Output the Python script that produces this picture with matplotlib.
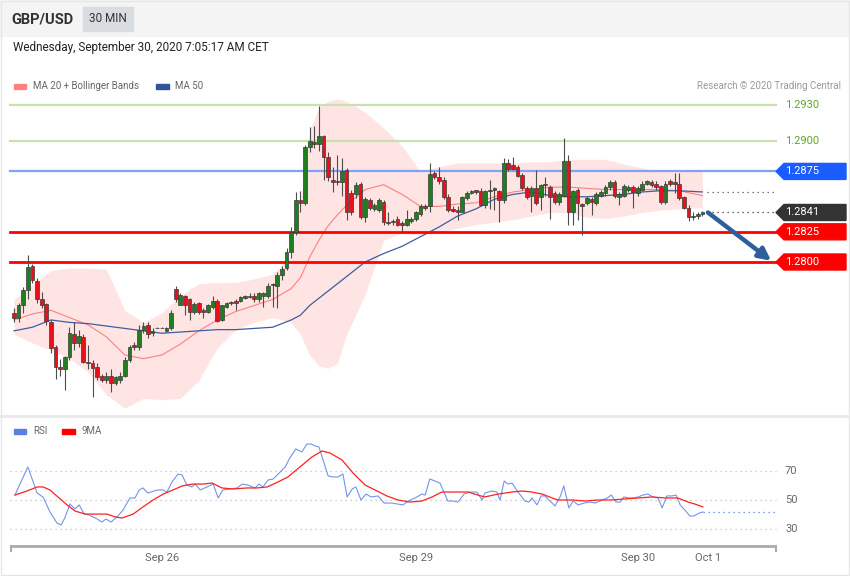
import matplotlib
matplotlib.use("Agg")
import matplotlib.pyplot as plt
from matplotlib.patches import Polygon, Rectangle
import numpy as np

plt.rcParams['font.family'] = ['Roboto', 'DejaVu Sans']

# ---- GBP/USD 30 min candles (oldest first) ----
opens = [1.2758, 1.2754, 1.2764, 1.2777, 1.2797, 1.2784, 1.2769, 1.2765, 1.2750, 1.2730,
         1.2713, 1.2711, 1.2721, 1.2740, 1.2733, 1.2738, 1.2717, 1.2716, 1.2713, 1.2706,
         1.2702, 1.2706, 1.2700, 1.2702, 1.2706, 1.2719, 1.2731, 1.2730, 1.2744, 1.2748,
         1.2741, 1.2745, 1.2745, 1.2743, 1.2745, 1.2778, 1.2764, 1.2772, 1.2769, 1.2759,
         1.2766, 1.2760, 1.2759, 1.2763, 1.2768, 1.2752, 1.2763, 1.2766, 1.2768, 1.2768,
         1.2770, 1.2771, 1.2772, 1.2769, 1.2772, 1.2772, 1.2782, 1.2780, 1.2789, 1.2795,
         1.2808, 1.2825, 1.2851, 1.2849, 1.2895, 1.2899, 1.2898, 1.2904, 1.2887, 1.2868,
         1.2867, 1.2866, 1.2876, 1.2857, 1.2856, 1.2865, 1.2837, 1.2851, 1.2844, 1.2843,
         1.2850, 1.2833, 1.2833, 1.2836, 1.2832, 1.2831, 1.2834, 1.2836, 1.2840, 1.2846,
         1.2846, 1.2874, 1.2870, 1.2868, 1.2854, 1.2844, 1.2843, 1.2841, 1.2853, 1.2857,
         1.2860, 1.2859, 1.2847, 1.2859, 1.2861, 1.2859, 1.2851, 1.2882, 1.2880, 1.2879,
         1.2872, 1.2861, 1.2855, 1.2861, 1.2854, 1.2865, 1.2862, 1.2857, 1.2850, 1.2855,
         1.2884, 1.2841, 1.2860, 1.2848, 1.2849, 1.2852, 1.2849, 1.2855, 1.2857, 1.2862,
         1.2866, 1.2854, 1.2855, 1.2860, 1.2862, 1.2857, 1.2860, 1.2865, 1.2866, 1.2865,
         1.2863, 1.2850, 1.2867, 1.2866, 1.2865, 1.2854, 1.2845, 1.2837, 1.2838, 1.2840]
closes = [1.2754, 1.2764, 1.2777, 1.2796, 1.2785, 1.2769, 1.2764, 1.2751, 1.2729, 1.2713,
          1.2711, 1.2721, 1.2741, 1.2733, 1.2739, 1.2717, 1.2716, 1.2712, 1.2705, 1.2702,
          1.2706, 1.2700, 1.2705, 1.2706, 1.2719, 1.2730, 1.2730, 1.2744, 1.2747, 1.2740,
          1.2743, 1.2745, 1.2745, 1.2745, 1.2758, 1.2769, 1.2773, 1.2764, 1.2759, 1.2765,
          1.2759, 1.2759, 1.2764, 1.2768, 1.2751, 1.2764, 1.2766, 1.2767, 1.2766, 1.2771,
          1.2772, 1.2772, 1.2769, 1.2774, 1.2774, 1.2780, 1.2781, 1.2789, 1.2794, 1.2808,
          1.2825, 1.2851, 1.2849, 1.2895, 1.2900, 1.2898, 1.2904, 1.2887, 1.2870, 1.2866,
          1.2866, 1.2875, 1.2841, 1.2841, 1.2864, 1.2837, 1.2852, 1.2845, 1.2847, 1.2851,
          1.2833, 1.2832, 1.2834, 1.2831, 1.2831, 1.2836, 1.2836, 1.2841, 1.2846, 1.2845,
          1.2873, 1.2870, 1.2867, 1.2854, 1.2843, 1.2842, 1.2841, 1.2854, 1.2857, 1.2859,
          1.2858, 1.2847, 1.2859, 1.2860, 1.2860, 1.2851, 1.2882, 1.2877, 1.2877, 1.2871,
          1.2861, 1.2854, 1.2861, 1.2849, 1.2864, 1.2864, 1.2854, 1.2850, 1.2856, 1.2884,
          1.2841, 1.2859, 1.2849, 1.2846, 1.2853, 1.2850, 1.2856, 1.2858, 1.2862, 1.2866,
          1.2855, 1.2856, 1.2863, 1.2862, 1.2858, 1.2861, 1.2865, 1.2867, 1.2864, 1.2862,
          1.2850, 1.2865, 1.2865, 1.2865, 1.2853, 1.2845, 1.2837, 1.2838, 1.2840, 1.2841]
highs = [1.2762, 1.2766, 1.2779, 1.2806, 1.2798, 1.2787, 1.2775, 1.2766, 1.2752, 1.2731,
         1.2720, 1.2722, 1.2746, 1.2750, 1.2744, 1.2740, 1.2731, 1.2719, 1.2716, 1.2707,
         1.2709, 1.2711, 1.2706, 1.2709, 1.2721, 1.2731, 1.2734, 1.2748, 1.2750, 1.2750,
         1.2745, 1.2746, 1.2746, 1.2746, 1.2760, 1.2780, 1.2774, 1.2773, 1.2770, 1.2767,
         1.2767, 1.2762, 1.2765, 1.2772, 1.2769, 1.2764, 1.2767, 1.2768, 1.2769, 1.2772,
         1.2773, 1.2774, 1.2774, 1.2775, 1.2775, 1.2783, 1.2783, 1.2792, 1.2797, 1.2812,
         1.2829, 1.2858, 1.2859, 1.2897, 1.2912, 1.2913, 1.2929, 1.2905, 1.2891, 1.2879,
         1.2889, 1.2886, 1.2878, 1.2860, 1.2866, 1.2866, 1.2854, 1.2853, 1.2849, 1.2853,
         1.2851, 1.2841, 1.2836, 1.2838, 1.2834, 1.2843, 1.2837, 1.2842, 1.2848, 1.2848,
         1.2882, 1.2875, 1.2879, 1.2870, 1.2856, 1.2846, 1.2846, 1.2855, 1.2859, 1.2860,
         1.2860, 1.2861, 1.2860, 1.2868, 1.2862, 1.2860, 1.2886, 1.2885, 1.2887, 1.2880,
         1.2874, 1.2863, 1.2863, 1.2876, 1.2865, 1.2870, 1.2864, 1.2859, 1.2858, 1.2903,
         1.2889, 1.2860, 1.2861, 1.2849, 1.2855, 1.2854, 1.2858, 1.2860, 1.2864, 1.2868,
         1.2868, 1.2858, 1.2865, 1.2864, 1.2864, 1.2863, 1.2867, 1.2868, 1.2868, 1.2867,
         1.2864, 1.2867, 1.2869, 1.2874, 1.2874, 1.2855, 1.2847, 1.2841, 1.2841, 1.2842]
lows = [1.2750, 1.2750, 1.2758, 1.2769, 1.2783, 1.2766, 1.2762, 1.2748, 1.2725, 1.2703,
        1.2706, 1.2694, 1.2719, 1.2727, 1.2730, 1.2716, 1.2711, 1.2688, 1.2702, 1.2701,
        1.2700, 1.2692, 1.2698, 1.2700, 1.2705, 1.2717, 1.2727, 1.2727, 1.2741, 1.2737,
        1.2739, 1.2745, 1.2745, 1.2742, 1.2744, 1.2767, 1.2764, 1.2756, 1.2752, 1.2757,
        1.2757, 1.2754, 1.2758, 1.2761, 1.2750, 1.2751, 1.2762, 1.2764, 1.2760, 1.2767,
        1.2769, 1.2770, 1.2767, 1.2767, 1.2763, 1.2770, 1.2763, 1.2762, 1.2785, 1.2793,
        1.2803, 1.2822, 1.2841, 1.2847, 1.2891, 1.2894, 1.2892, 1.2868, 1.2867, 1.2858,
        1.2864, 1.2855, 1.2835, 1.2839, 1.2853, 1.2836, 1.2833, 1.2843, 1.2842, 1.2841,
        1.2831, 1.2831, 1.2831, 1.2830, 1.2826, 1.2830, 1.2832, 1.2834, 1.2838, 1.2843,
        1.2841, 1.2869, 1.2865, 1.2852, 1.2841, 1.2841, 1.2835, 1.2841, 1.2851, 1.2856,
        1.2856, 1.2846, 1.2845, 1.2844, 1.2843, 1.2833, 1.2849, 1.2875, 1.2876, 1.2870,
        1.2860, 1.2852, 1.2841, 1.2847, 1.2843, 1.2855, 1.2836, 1.2848, 1.2847, 1.2854,
        1.2831, 1.2831, 1.2835, 1.2822, 1.2847, 1.2839, 1.2847, 1.2854, 1.2855, 1.2860,
        1.2853, 1.2847, 1.2854, 1.2858, 1.2845, 1.2855, 1.2859, 1.2864, 1.2862, 1.2860,
        1.2848, 1.2848, 1.2863, 1.2857, 1.2851, 1.2844, 1.2834, 1.2835, 1.2836, 1.2838]

# ---- moving averages / Bollinger bands, read at these candle numbers ----
band_idx = [0, 4, 8, 12, 16, 20, 24, 28, 32, 36, 40, 44, 48, 52, 56, 60,
            62, 64, 66, 68, 70, 72,
            76, 80, 84, 88, 92, 96, 100, 104, 108, 112, 116, 120, 124, 128, 132, 136, 140, 144,
            149]
ma20 = [1.2752, 1.2757, 1.2760, 1.2754, 1.2748, 1.2738, 1.2723, 1.2720, 1.2723, 1.2732,
        1.2743, 1.2752, 1.2759, 1.2764, 1.2769, 1.2778,
        1.2787, 1.2804, 1.2818, 1.2830, 1.2839, 1.2847,
        1.2860, 1.2864, 1.2856, 1.2846, 1.2846, 1.2848, 1.2849, 1.2854, 1.2858, 1.2860,
        1.2862, 1.2862, 1.2861, 1.2860, 1.2860, 1.2860, 1.2860, 1.2859,
        1.2855]
ma50 = [1.2743, 1.2746, 1.2752, 1.2750, 1.2749, 1.2747, 1.2745, 1.2743, 1.2741, 1.2742,
        1.2743, 1.2744, 1.2744, 1.2745, 1.2746, 1.2752,
        1.2756, 1.2764, 1.2770, 1.2776, 1.2782, 1.2788,
        1.2800, 1.2807, 1.2813, 1.2821, 1.2829, 1.2838, 1.2844, 1.2852, 1.2856, 1.2858,
        1.2855, 1.2854, 1.2854, 1.2855, 1.2856, 1.2858, 1.2859, 1.2859,
        1.2858]
bb_upper = [1.2769, 1.2781, 1.2793, 1.2795, 1.2795, 1.2794, 1.2760, 1.2750, 1.2758, 1.2772,
            1.2782, 1.2783, 1.2783, 1.2786, 1.2790, 1.2805,
            1.2851, 1.2909, 1.2928, 1.2933, 1.2935, 1.2933,
            1.2924, 1.2911, 1.2896, 1.2875, 1.2879, 1.2882, 1.2882, 1.2882, 1.2882, 1.2883,
            1.2883, 1.2885, 1.2885, 1.2885, 1.2881, 1.2878, 1.2875, 1.2875,
            1.2876]
bb_lower = [1.2740, 1.2733, 1.2727, 1.2720, 1.2709, 1.2690, 1.2679, 1.2687, 1.2686, 1.2687,
            1.2702, 1.2729, 1.2744, 1.2750, 1.2754, 1.2750,
            1.2740, 1.2723, 1.2714, 1.2712, 1.2716, 1.2740,
            1.2773, 1.2818, 1.2824, 1.2822, 1.2824, 1.2828, 1.2831, 1.2833, 1.2835, 1.2838,
            1.2841, 1.2841, 1.2837, 1.2836, 1.2838, 1.2841, 1.2843, 1.2844,
            1.2845]

# ---- RSI panel ----
rsi_idx = [0.2, 3.0, 5.0, 6.3, 7.8, 9.3, 10.2, 11.0, 12.1, 13.2,
           14.1, 15.2, 16.2, 18.0, 19.0, 19.9, 21.0, 22.3, 23.6, 25.1,
           26.2, 27.1, 27.9, 29.0, 31.0, 32.3, 33.1, 34.2, 35.5, 36.4,
           37.4, 38.5, 39.2, 40.3, 41.3, 43.1, 44.2, 45.2, 46.8, 48.3,
           49.4, 50.6, 52.2, 53.0, 53.9, 55.0, 56.1, 57.6, 58.7, 59.7,
           61.0, 62.3, 63.4, 64.3, 65.2, 66.0, 68.0, 69.0, 70.1, 71.2,
           72.1, 73.2, 74.0, 75.1, 76.2, 77.3, 78.8, 80.1, 81.8, 83.1,
           84.2, 85.3, 86.8, 88.3, 89.0, 90.0, 91.1, 92.2, 93.9, 95.0,
           96.1, 97.4, 98.7, 100.2, 101.3, 101.9, 103.5, 104.5, 105.2, 106.1,
           106.9, 107.8, 109.1, 110.6, 111.5, 112.1, 113.2, 114.1, 114.9, 116.0,
           117.1, 118.2, 119.0, 120.1, 121.0, 122.1, 123.4, 124.7, 125.8, 126.8,
           128.4, 129.3, 130.3, 131.2, 132.0, 133.1, 134.0, 135.1, 136.1, 137.2,
           138.3, 139.4, 140.3, 141.3, 142.4, 143.3, 144.2, 145.2, 146.3, 147.2,
           148.3, 149.1]
rsi = [53.4, 72.8, 54.8, 52.0, 41.7, 34.1, 32.8, 37.6, 47.2, 43.8,
       46.6, 40.3, 39.7, 36.9, 34.8, 36.9, 34.8, 38.3, 43.1, 51.4,
       51.4, 56.9, 58.3, 54.8, 56.9, 56.9, 55.5, 62.4, 67.9, 67.2,
       60.3, 59.0, 61.0, 56.9, 58.3, 61.0, 51.4, 56.9, 57.6, 58.3,
       61.0, 60.3, 58.3, 61.0, 59.0, 63.8, 64.5, 69.3, 72.8, 79.0,
       85.2, 83.1, 88.6, 88.6, 87.2, 86.6, 66.6, 65.9, 65.9, 67.9,
       52.1, 57.6, 59.0, 50.0, 54.1, 52.1, 52.8, 47.9, 47.9, 47.2,
       46.6, 49.3, 51.4, 54.1, 53.4, 64.5, 63.1, 61.7, 49.3, 49.3,
       48.6, 54.1, 55.5, 55.5, 50.0, 54.8, 56.2, 55.5, 50.0, 63.1,
       61.0, 61.7, 55.5, 49.3, 48.6, 51.4, 46.6, 52.8, 52.8, 49.3,
       45.9, 52.1, 59.7, 44.5, 49.3, 46.6, 47.9, 48.6, 47.9, 49.3,
       51.4, 53.4, 48.6, 48.6, 52.1, 51.4, 51.4, 52.1, 53.4, 54.1,
       52.1, 51.4, 44.5, 52.8, 52.8, 53.4, 46.6, 43.1, 39.0, 39.0,
       41.0, 41.7]
ma9_idx = [0.2, 2.8, 5.0, 6.3, 7.8, 9.5, 11.5, 13.2, 15.4, 18.0,
           20.1, 21.9, 23.4, 25.8, 27.9, 30.1, 32.3, 34.4, 36.4, 38.7,
           40.9, 42.9, 45.0, 47.4, 50.4, 52.6, 54.8, 57.1, 59.3, 61.9,
           64.5, 66.7, 68.4, 71.0, 73.4, 76.0, 78.6, 80.7, 83.1, 85.7,
           88.3, 90.5, 92.6, 96.1, 98.3, 100.4, 101.9, 104.8, 107.8, 110.0,
           112.1, 114.3, 116.5, 117.7, 120.8, 123.6, 126.4, 129.4, 132.1, 135.1,
           138.1, 140.9, 143.7, 145.9, 147.4, 149.1]
rsi_ma9 = [53.4, 56.2, 59.0, 59.0, 56.9, 52.1, 46.6, 42.4, 40.3, 40.3,
           40.3, 38.3, 37.6, 40.3, 45.2, 50.0, 54.1, 56.9, 59.7, 61.0,
           61.0, 61.7, 58.3, 57.6, 58.3, 58.3, 59.0, 62.4, 65.9, 72.8,
           79.7, 83.8, 82.4, 77.6, 68.6, 60.3, 56.2, 52.8, 50.0, 48.6,
           49.3, 52.1, 55.5, 55.5, 55.5, 53.4, 52.1, 54.1, 55.5, 56.2,
           55.5, 54.1, 51.4, 50.0, 50.0, 49.3, 50.0, 50.0, 50.7, 51.4,
           52.1, 51.4, 51.4, 48.6, 47.2, 45.2]
rsi_levels = [70, 50, 30]

date_ticks = [32.0, 87.0, 135.1, 150.2]
date_labels = ["Sep 26", "Sep 29", "Sep 30", "Oct 1"]

# key levels
resistances = [1.2930, 1.2900]
pivot = 1.2875
supports = [1.2825, 1.2800]
last_close = 1.2841
arrow_from = (150.2, 1.2841)
arrow_to = (163.9, 1.2801)

# ---- layout (pixels of an 850x576 picture) ----
W, H = 850, 576
X0, STEP = 14, 4.62
PP = 0.0130 / 157          # price per pixel
RP = 1 / 1.45              # rsi units per pixel


def fx(px):
    return px / W


def fy(py):
    return 1 - py / H


fig = plt.figure(figsize=(8.5, 5.76), dpi=100)
fig.patch.set_facecolor("white")

# header
fig.patches.append(Rectangle((0, fy(36)), 1, 36 / H, transform=fig.transFigure,
                             color="#f4f4f4", zorder=0))
fig.patches.append(Rectangle((fx(83), fy(31)), 50 / W, 24 / H, transform=fig.transFigure,
                             color="#d9dce1", zorder=1))
fig.text(fx(11), fy(19), "GBP/USD", fontsize=10.5, fontweight="bold", color="#333333", va="center")
fig.text(fx(108), fy(19), "30 MIN", fontsize=8.5, color="#333333", va="center", ha="center")
fig.text(fx(13), fy(48), "Wednesday, September 30, 2020 7:05:17 AM CET", fontsize=8.5,
         color="#222222", va="center")

# legends
fig.patches.append(Rectangle((fx(14), fy(88.5)), 12 / W, 4.5 / H, transform=fig.transFigure,
                             color="#ff8080"))
fig.text(fx(33), fy(86), "MA 20 + Bollinger Bands", fontsize=7, color="#666666", va="center")
fig.patches.append(Rectangle((fx(156), fy(88.5)), 13 / W, 4.5 / H, transform=fig.transFigure,
                             color="#2f5597"))
fig.text(fx(175), fy(86), "MA 50", fontsize=7, color="#666666", va="center")
fig.text(fx(841), fy(86), "Research \u00a9 2020 Trading Central", fontsize=7, color="#999999",
         va="center", ha="right")

fig.patches.append(Rectangle((fx(14), fy(433.5)), 12 / W, 4.5 / H, transform=fig.transFigure,
                             color="#5b7fe0"))
fig.text(fx(33), fy(431), "RSI", fontsize=7, color="#666666", va="center")
fig.patches.append(Rectangle((fx(62), fy(433.5)), 13 / W, 4.5 / H, transform=fig.transFigure,
                             color="#ff0000"))
fig.text(fx(82), fy(431), "9MA", fontsize=7, color="#666666", va="center")

# frame lines
fig.add_artist(plt.Line2D([0, 1], [fy(416), fy(416)], transform=fig.transFigure,
                          color="#e8e8e8", lw=2))
fig.add_artist(Rectangle((0.0006, 0.001), 0.9988, 0.998, transform=fig.transFigure,
                         fill=False, edgecolor="#e6e6e6", lw=1))

# ---- price panel ----
ax = fig.add_axes([0, fy(415), 1, (415 - 95) / H])
ax.set_xlim(-X0 / STEP, (W - X0) / STEP)
ax.set_ylim(1.2800 - 153 * PP, 1.2800 + 167 * PP)
ax.axis("off")

ax.fill_between(band_idx, bb_lower, bb_upper, color="#ffe4e4", lw=0, zorder=1)
ax.plot(band_idx, ma20, color="#ff8080", lw=0.8, zorder=2)
ax.plot(band_idx, ma50, color="#3d5e9e", lw=0.9, zorder=2)

yt = ax.get_yaxis_transform()
for lv in resistances:
    ax.plot([fx(10), fx(776)], [lv, lv], transform=yt, color="#c9e0b0", lw=1.6, zorder=2.5)
    ax.text(fx(785), lv, f"{lv:.4f}", transform=yt, color="#5fa822", fontsize=8, va="center")
ax.plot([fx(10), fx(776)], [pivot, pivot], transform=yt, color="#7fa4f2", lw=1.6, zorder=2.5)
for lv in supports:
    ax.plot([fx(10), fx(776)], [lv, lv], transform=yt, color="#ff0000", lw=2, zorder=2.5)

# candles
idx = np.arange(len(opens))
o = np.array(opens)
c = np.array(closes)
up = c >= o
ax.vlines(idx, lows, highs, color="#4d4d4d", lw=0.8, zorder=3)
body_lo = np.minimum(o, c)
body_h = np.maximum(np.abs(c - o), 0.6 * PP)
ax.bar(idx, body_h, bottom=body_lo, width=0.8,
       color=np.where(up, "#1f7f1f", "#e8101a"), edgecolor="#3a3a3a", lw=0.5, zorder=4)

# dotted extensions to the right
end_x = (776 - X0) / STEP
ax.plot([len(opens), end_x], [ma50[-1], ma50[-1]], color="#44546a",
        lw=0.9, ls=(0, (1, 3)), zorder=2)
ax.plot([len(opens), end_x], [last_close, last_close], color="#333333",
        lw=0.9, ls=(0, (1, 3)), zorder=2)


def tag(price, color, text_color="white"):
    h = 8 * PP
    pts = [(fx(776), price), (fx(784), price + h), (fx(846), price + h),
           (fx(846), price - h), (fx(784), price - h)]
    ax.add_patch(Polygon(pts, closed=True, transform=yt, color=color, clip_on=False, zorder=5))
    ax.text(fx(785), price, f"{price:.4f}", transform=yt, color=text_color, fontsize=8,
            va="center", zorder=6)


tag(pivot, "#1a5cff")
tag(last_close, "#333333")
for lv in supports:
    tag(lv, "#ff0000")

ax.annotate("", xy=arrow_to, xytext=arrow_from,
            arrowprops=dict(arrowstyle="-|>", color="#2e5f9c", lw=3.2, mutation_scale=18,
                            shrinkA=0, shrinkB=0), zorder=6)

# ---- RSI panel ----
ax2 = fig.add_axes([0, fy(575), 1, (575 - 416) / H])
ax2.set_xlim(-X0 / STEP, (W - X0) / STEP)
ax2.set_ylim(50 - 75 * RP, 50 + 84 * RP)
ax2.axis("off")
yt2 = ax2.get_yaxis_transform()
for lv in rsi_levels:
    ax2.plot([fx(10), fx(776)], [lv, lv], transform=yt2, color="#c0c0c0", lw=0.9, ls=(0, (1, 3)))
    ax2.text(fx(785), lv, str(lv), transform=yt2, color="#666666", fontsize=8, va="center")
ax2.plot(rsi_idx, rsi, color="#7394ea", lw=0.8, zorder=3)
ax2.plot(ma9_idx, rsi_ma9, color="#ff2020", lw=0.9, zorder=3)
ax2.plot([rsi_idx[-1], end_x], [rsi[-1], rsi[-1]], color="#5b7fe0", lw=0.9,
         ls=(0, (1, 3)))

# time axis
axis_y = 50 - 46 * RP
ax2.plot([fx(11), fx(776)], [axis_y, axis_y], transform=yt2, color="#aaaaaa", lw=2,
         solid_capstyle="butt")
for xe in (11, 776):
    ax2.plot([fx(xe), fx(xe)], [axis_y, axis_y - 5 * RP], transform=yt2, color="#aaaaaa", lw=1.5)
xt = ax2.get_xaxis_transform()
for pos, lab in zip(date_ticks, date_labels):
    ax2.text(pos, (575 - 558) / (575 - 416), lab, transform=xt, ha="center", va="center",
             fontsize=8, color="#666666")

fig.savefig("out.png", dpi=100)
